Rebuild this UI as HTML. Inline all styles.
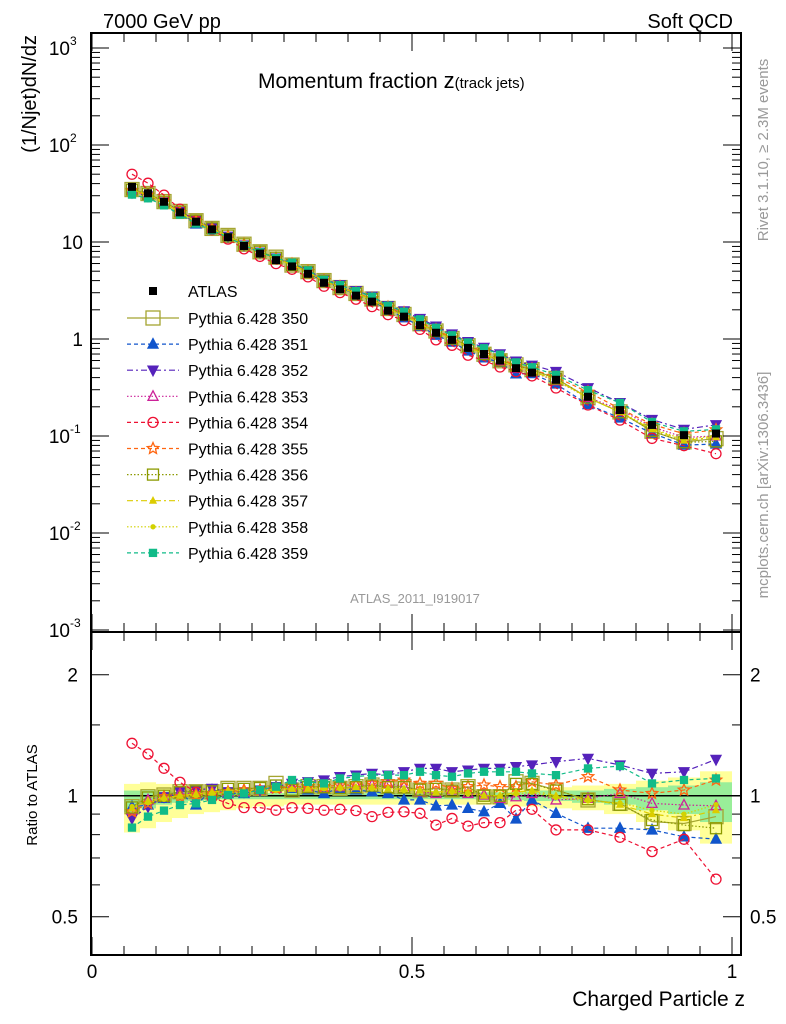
<!DOCTYPE html>
<html><head><meta charset="utf-8"><style>
body{margin:0;background:#fff;}
svg{display:block;font-family:"Liberation Sans",sans-serif;}
</style></head><body>
<svg id="c" width="786" height="1024" viewBox="0 0 786 1024"></svg>
<script>
const zCenters=[0.0625,0.0875,0.1125,0.1375,0.1625,0.1875,0.2125,0.2375,0.2625,0.2875,0.3125,0.3375,0.3625,0.3875,0.4125,0.4375,0.4625,0.4875,0.5125,0.5375,0.5625,0.5875,0.6125,0.6375,0.6625,0.6875,0.725,0.775,0.825,0.875,0.925,0.975];
const zWidths=[0.025,0.025,0.025,0.025,0.025,0.025,0.025,0.025,0.025,0.025,0.025,0.025,0.025,0.025,0.025,0.025,0.025,0.025,0.025,0.025,0.025,0.025,0.025,0.025,0.025,0.025,0.05,0.05,0.05,0.05,0.05,0.05];
const atlasValues=[37,31.8,26,20.2,16.2,13.5,11.2,9.1,7.6,6.5,5.6,4.7,3.8,3.25,2.8,2.43,1.96,1.70,1.39,1.16,0.98,0.81,0.70,0.60,0.50,0.45,0.38,0.254,0.185,0.13,0.102,0.106];
const bandOuterHi=[0.07,0.08,0.07,0.06,0.05,0.05,0.04,0.04,0.035,0.035,0.03,0.03,0.03,0.03,0.03,0.03,0.03,0.03,0.03,0.03,0.035,0.035,0.035,0.035,0.04,0.04,0.05,0.06,0.07,0.09,0.11,0.15];
const bandOuterLo=[0.19,0.17,0.14,0.12,0.10,0.09,0.08,0.07,0.06,0.06,0.05,0.05,0.05,0.05,0.05,0.05,0.05,0.05,0.05,0.05,0.05,0.05,0.05,0.05,0.06,0.06,0.07,0.08,0.10,0.14,0.18,0.24];
const bandInnerHi=[0.03,0.03,0.025,0.02,0.02,0.02,0.015,0.015,0.015,0.015,0.015,0.015,0.015,0.015,0.015,0.015,0.015,0.015,0.015,0.015,0.02,0.02,0.02,0.02,0.02,0.025,0.03,0.03,0.04,0.05,0.06,0.08];
const bandInnerLo=[0.09,0.07,0.05,0.04,0.03,0.025,0.02,0.02,0.02,0.02,0.02,0.02,0.02,0.02,0.02,0.02,0.02,0.02,0.02,0.02,0.02,0.02,0.025,0.025,0.025,0.03,0.03,0.04,0.05,0.08,0.10,0.14];
const r350=[0.939,0.994,1.004,1.023,1.023,1.023,1.043,1.043,1.043,1.073,1.033,1.053,1.053,1.043,1.053,1.063,1.053,1.053,1.033,1.043,1.033,1.053,0.994,0.994,1.083,1.073,1.033,0.976,0.957,0.862,0.853,0.887];
const r351=[0.939,0.948,0.985,1.013,0.948,1.033,1.013,1.013,1.033,1.053,1.043,1.033,1.013,1.043,1.033,1.023,1.013,0.976,0.976,0.943,0.948,0.930,0.912,0.957,0.875,0.976,0.904,0.830,0.830,0.822,0.790,0.780];
const r352=[0.878,0.939,0.994,1.023,1.033,1.043,1.023,1.023,1.033,1.053,1.073,1.083,1.094,1.115,1.125,1.136,1.125,1.147,1.169,1.169,1.147,1.158,1.169,1.169,1.181,1.192,1.215,1.238,1.192,1.136,1.147,1.231];
const r353=[0.921,0.976,0.994,1.013,1.013,1.023,1.023,1.023,1.033,1.043,1.053,1.053,1.043,1.053,1.063,1.063,1.073,1.053,1.023,1.013,1.033,1.013,1.004,0.985,0.994,1.013,0.976,0.985,1.013,0.957,0.948,0.944];
const r354=[1.35,1.27,1.17,1.08,1.02,0.99,0.957,0.934,0.934,0.92,0.934,0.93,0.92,0.925,0.918,0.887,0.909,0.912,0.904,0.845,0.878,0.84,0.857,0.857,0.92,0.925,0.822,0.822,0.788,0.726,0.779,0.62];
const r355=[0.912,0.957,0.994,0.994,1.004,1.013,1.023,1.033,1.033,1.043,1.053,1.053,1.053,1.063,1.063,1.073,1.083,1.094,1.073,1.073,1.043,1.053,1.063,1.053,1.053,1.083,1.063,1.115,1.033,1.013,1.033,1.094];
const r356=[0.935,0.99,1.0,1.02,1.025,1.025,1.04,1.04,1.045,1.06,1.035,1.05,1.05,1.045,1.05,1.06,1.05,1.05,1.035,1.04,1.03,1.05,1.0,1.0,1.07,1.07,1.03,0.98,0.95,0.870,0.845,0.830];
const r357=[0.93,0.97,0.99,1.0,1.01,1.02,1.03,1.03,1.03,1.04,1.04,1.04,1.05,1.05,1.05,1.05,1.04,1.04,1.03,1.02,1.03,1.02,1.0,1.0,1.02,1.03,1.0,0.98,0.95,0.9,0.88,0.92];
const r358=[0.94,0.96,0.98,1.0,1.0,1.01,1.02,1.02,1.03,1.03,1.04,1.04,1.04,1.04,1.05,1.04,1.04,1.03,1.03,1.02,1.02,1.01,1.0,1.0,1.01,1.02,0.99,0.97,0.96,0.92,0.9,0.95];
const r359=[0.833,0.887,0.918,0.948,0.957,0.976,1.004,1.013,1.033,1.053,1.094,1.083,1.073,1.104,1.115,1.125,1.125,1.125,1.147,1.125,1.115,1.136,1.147,1.147,1.147,1.136,1.125,1.169,1.185,1.073,1.094,1.104];
const seriesLabels=["Pythia 6.428 350","Pythia 6.428 351","Pythia 6.428 352","Pythia 6.428 353","Pythia 6.428 354","Pythia 6.428 355","Pythia 6.428 356","Pythia 6.428 357","Pythia 6.428 358","Pythia 6.428 359"];
const mainTicks=[3,2,1,0,-1,-2,-3];
const ratioTicks=[2,1,0.5];
const xTicks=[0,0.5,1];

const S=document.getElementById('c');const NS='http://www.w3.org/2000/svg';
function el(t,a,p){const e=document.createElementNS(NS,t);for(const k in a)e.setAttribute(k,a[k]);(p||S).appendChild(e);return e;}
const X0=92,XS=640,FL=91,FR=741,MT=33,MB=632,RB=955;
const xs=z=>X0+z*XS;
const ym=v=>339-97*Math.log10(v);
const yr=r=>795.7-121*Math.log2(r);

const styles=[
 {c:'#a5a531',d:'',m:'sq',f:false,s:7},
 {c:'#1155cc',d:'4,3',m:'tu',f:true,s:5},
 {c:'#5522bb',d:'6,3,2,3',m:'td',f:true,s:5},
 {c:'#cc2299',d:'1.5,2',m:'tu',f:false,s:5},
 {c:'#ee1133',d:'4,3',m:'ci',f:false,s:5},
 {c:'#ff6611',d:'4,3',m:'st',f:false,s:6},
 {c:'#8c9a00',d:'1.5,2',m:'sq',f:false,s:5.5},
 {c:'#dccc00',d:'6,3,2,3',m:'tu',f:true,s:3},
 {c:'#d2d200',d:'1.5,2',m:'ci',f:true,s:2},
 {c:'#11bb88',d:'4,3',m:'sq',f:true,s:3.5}
];
const ratios=[r350,r351,r352,r353,r354,r355,r356,r357,r358,r359];

function marker(g,st,x,y){
 const fill=st.f?st.c:'none',s=st.s,a={stroke:st.c,'stroke-width':1.3,fill:fill};
 let e;
 if(st.m==='sq')e=el('rect',Object.assign({x:x-s,y:y-s,width:2*s,height:2*s},a),g);
 else if(st.m==='ci')e=el('circle',Object.assign({cx:x,cy:y,r:s},a),g);
 else if(st.m==='tu')e=el('polygon',Object.assign({points:`${x},${y-s*1.1} ${x-s},${y+s*0.8} ${x+s},${y+s*0.8}`},a),g);
 else if(st.m==='td')e=el('polygon',Object.assign({points:`${x},${y+s*1.1} ${x-s},${y-s*0.8} ${x+s},${y-s*0.8}`},a),g);
 else{let p=[];for(let i=0;i<10;i++){const rr=i%2?s*0.45:s,an=-Math.PI/2+i*Math.PI/5;p.push((x+rr*Math.cos(an)).toFixed(1)+','+(y+rr*Math.sin(an)).toFixed(1));}e=el('polygon',Object.assign({points:p.join(' ')},a),g);}
 return e;
}

const gb=el('g',{});


zCenters.forEach((z,i)=>{
 const x1=xs(z-zWidths[i]/2),x2=xs(z+zWidths[i]/2);
 const o=el('rect',{x:x1,y:yr(1+bandOuterHi[i]),width:x2-x1,height:yr(1-bandOuterLo[i])-yr(1+bandOuterHi[i]),fill:'#ffff99'},gb);
 
 
 const n=el('rect',{x:x1,y:yr(1+bandInnerHi[i]),width:x2-x1,height:yr(1-bandInnerLo[i])-yr(1+bandInnerHi[i]),fill:'#99ee99'},gb);
 
 
});
const ref=el('line',{x1:FL,x2:FR,y1:yr(1),y2:yr(1),stroke:'#000','stroke-width':1.5});



ratios.forEach((rs,k)=>{
 const st=styles[k];
 const g=el('g',{});
 
 
 const pm=zCenters.map((z,i)=>xs(z).toFixed(1)+','+ym(atlasValues[i]*rs[i]).toFixed(1)).join(' ');
 const pr=zCenters.map((z,i)=>xs(z).toFixed(1)+','+yr(rs[i]).toFixed(1)).join(' ');
 const l1=el('polyline',{points:pm,fill:'none',stroke:st.c,'stroke-width':1.2,'stroke-dasharray':st.d},g);
 
 
 const l2=el('polyline',{points:pr,fill:'none',stroke:st.c,'stroke-width':1.2,'stroke-dasharray':st.d},g);
 
 
 zCenters.forEach((z,i)=>{
  const m1=marker(g,st,xs(z),ym(atlasValues[i]*rs[i]));
  
  
  const m2=marker(g,st,xs(z),yr(rs[i]));
  
  
 });
});
const ga=el('g',{});


zCenters.forEach((z,i)=>{
 const r=el('rect',{x:xs(z)-4,y:ym(atlasValues[i])-4,width:8,height:8,fill:'#000'},ga);
 
 
});

const f1=el('rect',{x:FL,y:MT,width:FR-FL,height:MB-MT,fill:'none',stroke:'#000','stroke-width':2});


const f2=el('rect',{x:FL,y:MB,width:FR-FL,height:RB-MB,fill:'none',stroke:'#000','stroke-width':2});



const gt=el('g',{stroke:'#000','stroke-width':1});


for(let e=-3;e<=3;e++){for(let m=1;m<10;m++){const v=Math.pow(10,e)*m;const y=ym(v);if(y<MT||y>MB)continue;const L=m===1?18:9;
 el('line',{x1:FL,x2:FL+L,y1:y,y2:y},gt);el('line',{x1:FR,x2:FR-L,y1:y,y2:y},gt);}}
[0.5,0.6,0.7,0.8,0.9,1,1.5,2].forEach(r=>{const y=yr(r);const L=(r===0.5||r===1||r===2)?18:9;
 el('line',{x1:FL,x2:FL+L,y1:y,y2:y},gt);el('line',{x1:FR,x2:FR-L,y1:y,y2:y},gt);});
for(let i=0;i<=20;i++){const z=i*0.05,x=xs(z);const L=i%10===0?18:9;
 el('line',{x1:x,x2:x,y1:MT,y2:MT+L},gt);el('line',{x1:x,x2:x,y1:MB,y2:MB-L},gt);
 el('line',{x1:x,x2:x,y1:MB,y2:MB+L},gt);el('line',{x1:x,x2:x,y1:RB,y2:RB-L},gt);}

function txt(s,a,name){const t=el('text',a);t.textContent=s;return t;}
mainTicks.forEach(e=>{
 const y=ym(Math.pow(10,e));
 if(e===1)txt('10',{x:83,y:y+7,'font-size':19,'text-anchor':'end'},'y-tick-label');
 else if(e===0)txt('1',{x:83,y:y+7,'font-size':19,'text-anchor':'end'},'y-tick-label');
 else{txt('10',{x:70,y:y+7,'font-size':19,'text-anchor':'end'},'y-tick-label');
  txt(String(e),{x:70,y:y-3,'font-size':12,'text-anchor':'start'},'y-tick-exponent');}
});
ratioTicks.forEach(r=>{const y=yr(r);
 txt(String(r),{x:78,y:y+7,'font-size':19,'text-anchor':'end'},'ratio-tick-label-left');
 txt(String(r),{x:750,y:y+7,'font-size':19,'text-anchor':'start'},'ratio-tick-label-right');});
xTicks.forEach(z=>txt(String(z),{x:xs(z),y:978,'font-size':19,'text-anchor':'middle'},'x-tick-label'));

txt('7000 GeV pp',{x:103,y:28,'font-size':20},'energy-label');
txt('Soft QCD',{x:733,y:28,'font-size':20,'text-anchor':'end'},'process-label');
const tt=txt('Momentum fraction ',{x:258,y:88,'font-size':21},'plot-title');
const tz=el('tspan',{'font-size':22},tt);tz.textContent='z';
const ts=el('tspan',{'font-size':15},tt);ts.textContent='(track jets)';
txt('ATLAS_2011_I919017',{x:415,y:603,'font-size':13,fill:'#999','text-anchor':'middle'},'analysis-id');
txt('(1/Njet)dN/dz',{x:0,y:0,'font-size':20,'text-anchor':'end',transform:'translate(36,35) rotate(-90)'},'y-axis-title');
txt('Ratio to ATLAS',{x:0,y:0,'font-size':15,'text-anchor':'middle',transform:'translate(37,795) rotate(-90)'},'ratio-axis-title');
txt('Charged Particle z',{x:745,y:1006,'font-size':21,'text-anchor':'end'},'x-axis-title');
txt('Rivet 3.1.10, \u2265 2.3M events',{x:0,y:0,'font-size':15,fill:'#999','text-anchor':'middle',transform:'translate(768,150) rotate(-90)'},'rivet-label');
txt('mcplots.cern.ch [arXiv:1306.3436]',{x:0,y:0,'font-size':15,fill:'#999','text-anchor':'middle',transform:'translate(768,485) rotate(-90)'},'mcplots-label');

const gl=el('g',{});


const la=el('rect',{x:149,y:287,width:8,height:8,fill:'#000'},gl);


txt('ATLAS',{x:188,y:297,'font-size':16},'legend-entry-atlas');
seriesLabels.forEach((s,k)=>{const y=318+k*26.1,st=styles[k];
 const ln=el('line',{x1:127,x2:179,y1:y,y2:y,stroke:st.c,'stroke-width':1.2,'stroke-dasharray':st.d},gl);
 
 
 const m=marker(gl,st,153,y);
 
 
 txt(s,{x:188,y:y+6,'font-size':16},'legend-entry');});
</script>
</body></html>
